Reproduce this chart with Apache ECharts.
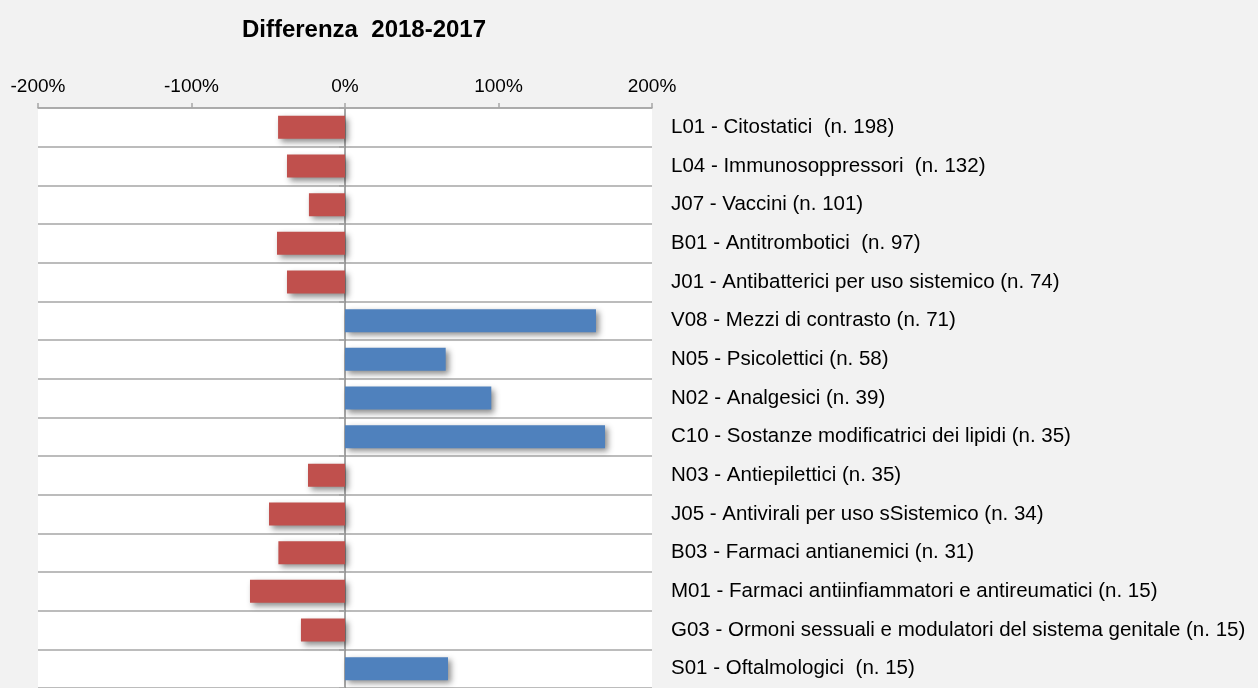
<!DOCTYPE html>
<html>
<head>
<meta charset="utf-8">
<script src="https://cdn.jsdelivr.net/npm/echarts@6/dist/echarts.min.js"></script>
<style>
  html, body { margin: 0; padding: 0; background: #f2f2f2; }
  #chart { width: 1258px; height: 688px; }
</style>
</head>
<body>
<div id="chart"></div>
<script>
const categories = [
  'L01 - Citostatici  (n. 198)',
  'L04 - Immunosoppressori  (n. 132)',
  'J07 - Vaccini (n. 101)',
  'B01 - Antitrombotici  (n. 97)',
  'J01 - Antibatterici per uso sistemico (n. 74)',
  'V08 - Mezzi di contrasto (n. 71)',
  'N05 - Psicolettici (n. 58)',
  'N02 - Analgesici (n. 39)',
  'C10 - Sostanze modificatrici dei lipidi (n. 35)',
  'N03 - Antiepilettici (n. 35)',
  'J05 - Antivirali per uso sSistemico (n. 34)',
  'B03 - Farmaci antianemici (n. 31)',
  'M01 - Farmaci antiinfiammatori e antireumatici (n. 15)',
  'G03 - Ormoni sessuali e modulatori del sistema genitale (n. 15)',
  'S01 - Oftalmologici  (n. 15)'
]

// percent difference 2018 vs 2017
const diff = [-43.6, -37.8, -23.5, -44.3, -37.8, 163.5, 65.6, 95.3, 169.4, -24.1, -49.5, -43.4, -61.9, -28.7, 67.1]

const xTicks = { min: -200, max: 200, step: 100 }

const font = 'Liberation Sans, Arial, sans-serif'

let myChart = echarts.init(document.getElementById('chart'))

let option = {
  backgroundColor: '#f2f2f2',
  animation: false,
  title: {
    text: 'Differenza  2018-2017',
    left: 359,
    top: 13,
    textAlign: 'center',
    textStyle: { fontFamily: font, fontSize: 24, fontWeight: 'bold', color: '#000' }
  },
  grid: {
    left: 38, top: 108, width: 614, height: 586,
    show: true, backgroundColor: '#fff', borderWidth: 0
  },
  xAxis: {
    type: 'value',
    position: 'top',
    min: xTicks.min,
    max: xTicks.max,
    interval: xTicks.step,
    axisLine: { show: true, lineStyle: { color: '#a6a6a6', width: 1.5 } },
    axisTick: { show: true, length: 5, lineStyle: { color: '#a6a6a6', width: 1.5 } },
    splitLine: { show: false },
    axisLabel: {
      formatter: '{value}%', margin: 12,
      fontFamily: font, fontSize: 19, color: '#000'
    }
  },
  yAxis: [
    {
      type: 'category',
      data: categories,
      inverse: true,
      position: 'left',
      axisLine: { show: true, onZero: true, lineStyle: { color: '#888', width: 1.5 } },
      axisTick: { show: true, length: 6, lineStyle: { color: '#a6a6a6', width: 1.5 } },
      splitLine: { show: true, lineStyle: { color: '#a6a6a6', width: 1.5 } },
      axisLabel: { show: false }
    },
    {
      type: 'category',
      data: categories,
      inverse: true,
      position: 'right',
      axisLine: { show: false },
      axisTick: { show: false },
      splitLine: { show: false },
      axisLabel: {
        margin: 19, padding: [5, 0, 0, 0],
        fontFamily: font, fontSize: 20.5, color: '#000'
      }
    }
  ],
  series: [
    {
      type: 'bar',
      yAxisIndex: 0,
      data: diff,
      barWidth: 23,
      itemStyle: {
        color: p => p.value < 0 ? '#c0504d' : '#4f81bd',
        shadowColor: 'rgba(0,0,0,0.45)',
        shadowBlur: 6,
        shadowOffsetX: 3,
        shadowOffsetY: 3
      }
    }
  ]
}

myChart.setOption(option)
</script>
</body>
</html>
